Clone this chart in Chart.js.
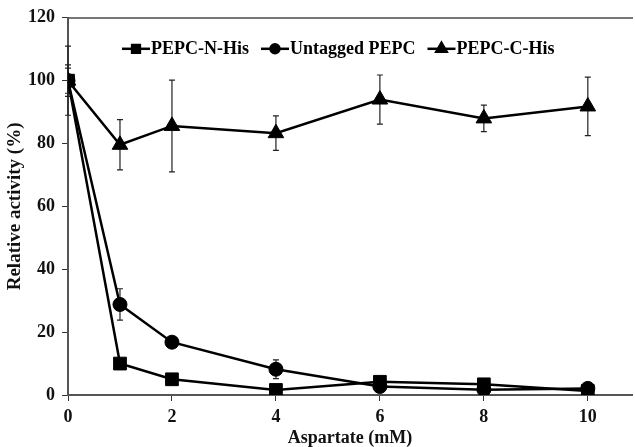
<!DOCTYPE html>
<html>
<head>
<meta charset="utf-8">
<script src="https://cdn.jsdelivr.net/npm/chart.js@4.4.0/dist/chart.umd.min.js"></script>
<style>
  body { margin: 0; background: #fff; overflow: hidden; }
  #wrap { width: 635px; height: 447px; overflow: hidden; }
</style>
</head>
<body>
<div id="wrap"><canvas id="activityChart" width="642" height="447"></canvas></div>
<script>
// Data
const concentrations = [0, 1, 2, 4, 6, 8, 10];
const nHis = [100, 10, 5, 1.6, 4.2, 3.4, 1.3];
const nHisErr = [4, 0.8, 0.6, 0.5, 0.8, 1.5, 0.5];
const untagged = [100, 28.8, 16.8, 8.2, 2.7, 1.7, 2.1];
const untaggedErr = [5, 5, 0.8, 3, 0.6, 0.5, 0.5];
const cHis = [100, 79.6, 85.6, 83.3, 94, 88, 91.8];
const cHisErr = [11, 8, 14.6, 5.5, 7.8, 4.2, 9.3];
const xTicks = [0, 2, 4, 6, 8, 10];
const yTicks = [0, 20, 40, 60, 80, 100, 120];

const serif = "'Liberation Serif', 'Times New Roman', serif";

function toPoints(values) {
  return concentrations.map((c, i) => ({ x: c, y: values[i] }));
}

function makeSeries(label, values, errors, style, radius, legendRadius) {
  return {
    label: label,
    data: toPoints(values),
    errors: errors,
    legendRadius: legendRadius,
    borderColor: '#000',
    backgroundColor: '#000',
    borderWidth: 2.5,
    pointStyle: style,
    pointRadius: radius,
    pointBorderWidth: 1,
    tension: 0
  };
}

// Error bars drawn from the scales
const errorBars = {
  id: 'errorBars',
  beforeDatasetsDraw(chart) {
    const ctx = chart.ctx;
    const xs = chart.scales.x, ys = chart.scales.y;
    ctx.save();
    ctx.strokeStyle = '#222';
    ctx.lineWidth = 1.2;
    chart.data.datasets.forEach(ds => {
      ds.data.forEach((p, i) => {
        const e = ds.errors[i];
        const px = xs.getPixelForValue(p.x);
        const top = ys.getPixelForValue(p.y + e);
        const bot = ys.getPixelForValue(p.y - e);
        ctx.beginPath();
        ctx.moveTo(px, top); ctx.lineTo(px, bot);
        ctx.moveTo(px - 3, top); ctx.lineTo(px + 3, top);
        ctx.moveTo(px - 3, bot); ctx.lineTo(px + 3, bot);
        ctx.stroke();
      });
    });
    ctx.restore();
  }
};

// Legend inside the plot, line-marker-line symbols
const innerLegend = {
  id: 'innerLegend',
  afterDraw(chart) {
    const ctx = chart.ctx;
    const area = chart.chartArea;
    const y = area.top + 31;
    let x = area.left + 54;
    ctx.save();
    ctx.font = 'bold 18px ' + serif;
    ctx.textBaseline = 'middle';
    ctx.fillStyle = '#000';
    chart.data.datasets.forEach(ds => {
      ctx.strokeStyle = '#000';
      ctx.lineWidth = 2.5;
      ctx.beginPath();
      ctx.moveTo(x, y); ctx.lineTo(x + 28, y);
      ctx.stroke();
      Chart.helpers.drawPoint(ctx, {
        pointStyle: ds.pointStyle, radius: ds.legendRadius, borderWidth: 1, rotation: 0
      }, x + 14, y);
      ctx.fill();
      ctx.fillText(ds.label, x + 29, y + 1);
      x += 29 + ctx.measureText(ds.label).width + 12;
    });
    ctx.restore();
  }
};

const ctx = document.getElementById('activityChart').getContext('2d');
new Chart(ctx, {
  type: 'line',
  data: {
    datasets: [
      makeSeries('PEPC-N-His', nHis, nHisErr, 'rect', 9, 5.5),
      makeSeries('Untagged PEPC', untagged, untaggedErr, 'circle', 7, 4.5),
      makeSeries('PEPC-C-His', cHis, cHisErr, 'triangle', 9, 6)
    ]
  },
  options: {
    responsive: false,
    animation: false,
    layout: { padding: { top: 8, left: 6, right: 0, bottom: 0 } },
    plugins: {
      legend: { display: false },
      tooltip: { enabled: false }
    },
    scales: {
      x: {
        type: 'linear',
        min: 0,
        max: 10.85,
        afterBuildTicks: axis => { axis.ticks = xTicks.map(v => ({ value: v })); },
        ticks: { color: '#111', font: { family: serif, size: 18, weight: 'bold', lineHeight: 1 }, padding: 7 },
        grid: { drawOnChartArea: false, drawTicks: true, tickLength: 6, color: '#333', lineWidth: 1 },
        border: { color: '#555', width: 2 },
        title: {
          display: true, text: 'Aspartate (mM)', color: '#111',
          font: { family: serif, size: 18, weight: 'bold', lineHeight: 1 }, padding: { top: -4, bottom: 0 }
        }
      },
      xTop: {
        type: 'linear',
        position: 'top',
        min: 0,
        max: 10.85,
        ticks: { display: false },
        grid: { display: false },
        border: { color: '#777', width: 2 }
      },
      y: {
        min: 0,
        max: 120,
        afterBuildTicks: axis => { axis.ticks = yTicks.map(v => ({ value: v })); },
        ticks: { color: '#111', font: { family: serif, size: 18, weight: 'bold' }, padding: 7 },
        grid: { drawOnChartArea: false, drawTicks: true, tickLength: 6, color: '#333', lineWidth: 1 },
        border: { color: '#555', width: 2 },
        title: {
          display: true, text: 'Relative activity (%)', color: '#111',
          font: { family: serif, size: 19, weight: 'bold', lineHeight: 1 }, padding: { top: 0, bottom: -4 }
        }
      }
    }
  },
  plugins: [errorBars, innerLegend]
});
</script>
</body>
</html>
